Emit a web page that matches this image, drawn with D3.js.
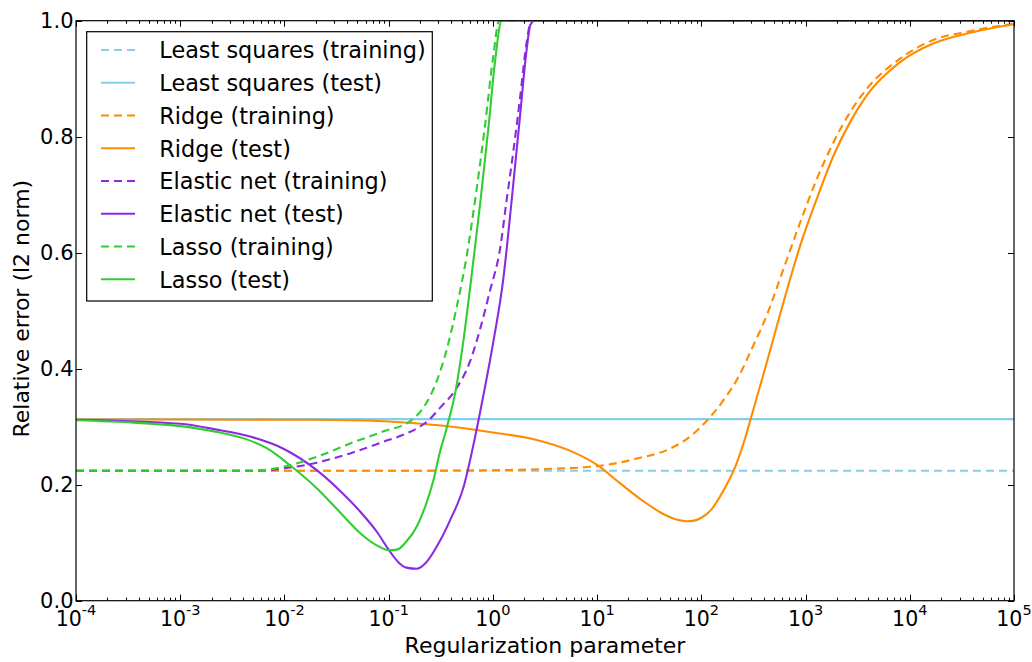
<!DOCTYPE html>
<html><head><meta charset="utf-8">
<script src="https://cdn.jsdelivr.net/npm/d3@7"></script>
<style>
html,body{margin:0;padding:0;background:#fff;}
text{font-family:"DejaVu Sans",sans-serif;fill:#000;}
</style></head>
<body>
<svg id="chart" width="1032" height="662"></svg>
<script>
// ---- data (x = log10 of regularization parameter, y = relative error) ----
const lsTrainX = [-4, 5];
const lsTrainY = [0.224, 0.224];
const lsTestX = [-4, 5];
const lsTestY = [0.313, 0.313];

const ridgeTrainX = [-4, -2, -1, 0, 0.5, 1, 1.38, 1.71, 1.9, 2.03, 2.23, 2.36, 2.47, 2.63, 2.79, 2.95, 3.11, 3.27, 3.43, 3.59, 3.91, 4.23, 4.55, 5];
const ridgeTrainY = [0.224, 0.224, 0.224, 0.225, 0.227, 0.232, 0.245, 0.263, 0.284, 0.306, 0.350, 0.387, 0.429, 0.493, 0.573, 0.653, 0.728, 0.791, 0.843, 0.883, 0.935, 0.967, 0.981, 0.995];

const ridgeTestX = [-4, -3, -2, -1.5, -1, -0.5, 0, 0.4, 0.72, 1.0, 1.21, 1.44, 1.64, 1.78, 1.86, 1.93, 2.0, 2.1, 2.2, 2.33, 2.42, 2.47, 2.63, 2.79, 2.95, 3.11, 3.27, 3.43, 3.59, 3.91, 4.23, 4.55, 5];
const ridgeTestY = [0.3125, 0.3124, 0.312, 0.3115, 0.309, 0.302, 0.29, 0.278, 0.260, 0.234, 0.204, 0.172, 0.149, 0.139, 0.137, 0.138, 0.143, 0.158, 0.186, 0.233, 0.280, 0.311, 0.412, 0.516, 0.613, 0.694, 0.768, 0.826, 0.872, 0.929, 0.961, 0.978, 0.994];

const enTrainX = [-4, -2.3, -2.01, -1.69, -1.37, -1.05, -0.86, -0.73, -0.63, -0.51, -0.35, -0.22, -0.12, -0.03, 0.07, 0.13, 0.20, 0.26, 0.325, 0.37, 5];
const enTrainY = [0.224, 0.224, 0.228, 0.238, 0.254, 0.274, 0.286, 0.297, 0.309, 0.332, 0.366, 0.412, 0.470, 0.533, 0.608, 0.688, 0.780, 0.866, 0.964, 1.0, 1.0];

const enTestX = [-4, -3, -2.65, -2.33, -2.01, -1.69, -1.47, -1.27, -1.11, -1.0, -0.905, -0.83, -0.73, -0.65, -0.54, -0.41, -0.28, -0.17, -0.09, 0.005, 0.10, 0.18, 0.26, 0.325, 0.36, 0.40, 5];
const enTestY = [0.312, 0.305, 0.295, 0.283, 0.262, 0.225, 0.190, 0.153, 0.118, 0.088, 0.066, 0.057, 0.055, 0.064, 0.093, 0.139, 0.197, 0.283, 0.355, 0.447, 0.555, 0.690, 0.835, 0.952, 0.993, 1.0, 1.0];

const lassoTrainX = [-4, -2.3, -2.01, -1.69, -1.37, -1.05, -0.79, -0.67, -0.54, -0.44, -0.35, -0.25, -0.155, -0.075, 0.005, 0.06, 5];
const lassoTrainY = [0.224, 0.224, 0.231, 0.248, 0.271, 0.292, 0.310, 0.332, 0.378, 0.435, 0.504, 0.596, 0.711, 0.820, 0.941, 1.0, 1.0];

const lassoTestX = [-4, -3.45, -3, -2.65, -2.33, -2.17, -1.95, -1.69, -1.47, -1.27, -1.11, -1.0, -0.92, -0.83, -0.73, -0.65, -0.57, -0.51, -0.44, -0.36, -0.28, -0.20, -0.12, -0.04, 0.02, 0.085, 5];
const lassoTestY = [0.311, 0.307, 0.301, 0.291, 0.276, 0.263, 0.234, 0.194, 0.153, 0.116, 0.095, 0.087, 0.088, 0.102, 0.128, 0.162, 0.208, 0.255, 0.300, 0.360, 0.452, 0.567, 0.688, 0.820, 0.929, 1.0, 1.0];

const seriesNames = ["Least squares (training)", "Least squares (test)", "Ridge (training)", "Ridge (test)",
  "Elastic net (training)", "Elastic net (test)", "Lasso (training)", "Lasso (test)"];
const seriesColors = ["#87CEEB", "#87CEEB", "#FF8C00", "#FF8C00", "#8A2BE2", "#8A2BE2", "#32CD32", "#32CD32"];
const seriesDashed = [true, false, true, false, true, false, true, false];
const seriesX = [lsTrainX, lsTestX, ridgeTrainX, ridgeTestX, enTrainX, enTestX, lassoTrainX, lassoTestX];
const seriesY = [lsTrainY, lsTestY, ridgeTrainY, ridgeTestY, enTrainY, enTestY, lassoTrainY, lassoTestY];

const xTickExps = [-4, -3, -2, -1, 0, 1, 2, 3, 4, 5];
const yTicks = [0.0, 0.2, 0.4, 0.6, 0.8, 1.0];
const xLabel = "Regularization parameter";
const yLabel = "Relative error (l2 norm)";

// ---- layout ----
const L = 76, R = 1014, T = 20.7, B = 600.7;
const svg = d3.select("#chart");
const x = d3.scaleLog().domain([1e-4, 1e5]).range([L, R]);
const y = d3.scaleLinear().domain([0, 1]).range([B, T]);

svg.append("defs").append("clipPath").attr("id", "clip")
  .append("rect").attr("x", L).attr("y", T).attr("width", R - L).attr("height", B - T);

const line = d3.line().x(d => x(Math.pow(10, d[0]))).y(d => y(d[1])).curve(d3.curveMonotoneX);
const plot = svg.append("g").attr("clip-path", "url(#clip)");
seriesNames.forEach((name, i) => {
  const pts = seriesX[i].map((v, j) => [v, seriesY[i][j]]);
  plot.append("path").datum(pts).attr("d", line)
    .attr("fill", "none").attr("stroke", seriesColors[i]).attr("stroke-width", 2.1)
    .attr("stroke-dasharray", seriesDashed[i] ? "8,5" : null);
});

// ---- ticks (inward, all four sides) ----
const tickG = svg.append("g").attr("stroke", "#000").attr("stroke-width", 1);
const minorVals = [];
for (let e = -4; e < 5; e++) for (let m = 2; m <= 9; m++) minorVals.push(m * Math.pow(10, e));
minorVals.forEach(v => {
  const px = Math.round(x(v)) + 0.5;
  tickG.append("line").attr("x1", px).attr("x2", px).attr("y1", B).attr("y2", B - 3);
  tickG.append("line").attr("x1", px).attr("x2", px).attr("y1", T).attr("y2", T + 3);
});
xTickExps.forEach(e => {
  const px = Math.round(x(Math.pow(10, e))) + 0.5;
  tickG.append("line").attr("x1", px).attr("x2", px).attr("y1", B).attr("y2", B - 6);
  tickG.append("line").attr("x1", px).attr("x2", px).attr("y1", T).attr("y2", T + 6);
});
yTicks.forEach(v => {
  const py = Math.round(y(v)) + 0.5;
  tickG.append("line").attr("x1", L).attr("x2", L + 6).attr("y1", py).attr("y2", py);
  tickG.append("line").attr("x1", R).attr("x2", R - 6).attr("y1", py).attr("y2", py);
});

// frame
svg.append("rect").attr("x", L).attr("y", T).attr("width", R - L).attr("height", B - T)
  .attr("fill", "none").attr("stroke", "#000").attr("stroke-width", 1.2);

// tick labels
const fmt = d3.format(".1f");
yTicks.forEach(v => {
  svg.append("text").attr("x", 73.5).attr("y", y(v) + 7.6).attr("text-anchor", "end")
    .attr("font-size", 21).text(fmt(v));
});
xTickExps.forEach(e => {
  const t = svg.append("text").attr("x", x(Math.pow(10, e))).attr("y", 625.7)
    .attr("text-anchor", "middle").attr("font-size", 20.5);
  t.append("tspan").text("10");
  t.append("tspan").attr("dy", -10.5).attr("font-size", 14.5).text(String(e));
});

// axis labels
svg.append("text").attr("x", (L + R) / 2).attr("y", 653.3).attr("text-anchor", "middle")
  .attr("font-size", 22).text(xLabel);
svg.append("text").attr("transform", `translate(29,${(T + B) / 2 - 2}) rotate(-90)`)
  .attr("text-anchor", "middle").attr("font-size", 22).text(yLabel);

// legend
const lg = svg.append("g");
lg.append("rect").attr("x", 86.7).attr("y", 31.7).attr("width", 345.6).attr("height", 269.3)
  .attr("fill", "#fff").attr("stroke", "#000").attr("stroke-width", 1.2);
seriesNames.forEach((name, i) => {
  const cy = 50 + i * 32.75;
  lg.append("line").attr("x1", 101).attr("x2", 135).attr("y1", cy).attr("y2", cy)
    .attr("stroke", seriesColors[i]).attr("stroke-width", 2.1)
    .attr("stroke-dasharray", seriesDashed[i] ? "8,5" : null);
  lg.append("text").attr("x", 159.3).attr("y", cy + 8.3).attr("font-size", 22.4).text(name);
});
</script>
</body></html>
